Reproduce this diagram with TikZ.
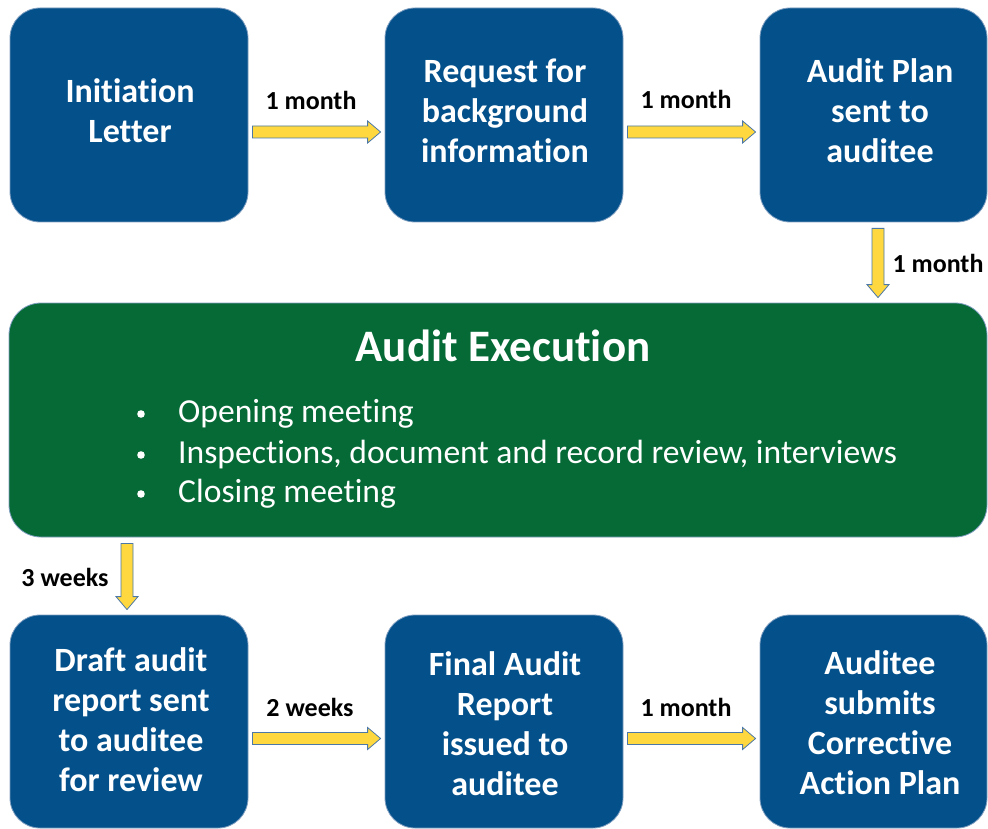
\documentclass[tikz,border=0pt]{standalone}
\usepackage{fontspec}
\setmainfont[Ligatures={NoCommon}]{Carlito}
\usetikzlibrary{calc}
\definecolor{boxblue}{HTML}{03508B}
\definecolor{boxgreen}{HTML}{066A37}
\definecolor{edgeblue}{HTML}{7F9EC0}
\definecolor{arrowfill}{HTML}{FFD83F}
\definecolor{arrowedge}{HTML}{4C78A8}
\tikzset{
  stepbox/.style={rectangle, rounded corners=30pt, fill=boxblue, draw=edgeblue, line width=0.8pt, inner sep=0pt},
  steptext/.style={text=white, font=\fontsize{34}{40}\selectfont\bfseries, align=center, inner sep=0pt},
  execbox/.style={rectangle, rounded corners=32pt, fill=boxgreen, draw=edgeblue, line width=0.8pt, inner sep=0pt},
  yarrow/.style={fill=arrowfill, draw=arrowedge, line width=0.8pt, line join=miter},
  timelabel/.style={font=\fontsize{26}{30}\selectfont\bfseries, text=black, inner sep=0pt},
  bullettext/.style={font=\fontsize{33.6}{40}\selectfont, text=white, anchor=west, inner sep=0pt},
}
\newcommand\harrow[2]{%
  \draw[yarrow] let \p1=($(#1.east)+(4pt,-17pt)$), \p2=($(#2.west)+(-4pt,0pt)$) in
    (\x1,\y1+6pt) -- (\x2-13pt,\y1+6pt) -- (\x2-13pt,\y1+11pt) -- (\x2,\y1) --
    (\x2-13pt,\y1-11pt) -- (\x2-13pt,\y1-6pt) -- (\x1,\y1-6pt) -- cycle;}
% #1 from node, #2 to node, #3 node giving x, #4 x offset
\newcommand\varrow[4]{%
  \draw[yarrow] let \p1=($(#1.south -| #3.south)+(#4,-6pt)$), \p2=($(#2.north -| #3.south)+(#4,5pt)$) in
    (\x1-6pt,\y1) -- (\x1-6pt,\y2+13pt) -- (\x1-11pt,\y2+13pt) -- (\x1,\y2) --
    (\x1+11pt,\y2+13pt) -- (\x1+6pt,\y2+13pt) -- (\x1+6pt,\y1) -- cycle;}
\begin{document}
\begin{tikzpicture}[x=1pt,y=-1pt]
\useasboundingbox (0,0) rectangle (988,829);
% top row
\node[stepbox, minimum width=238pt, minimum height=214pt] (init) at (129,115) {};
\node[steptext] (initT) at (130,111) {Initiation\\Letter};
\node[stepbox, minimum width=238pt, minimum height=214pt] (req) at (504,115) {};
\node[steptext] (reqT) at (505,111) {Request for\\background\\information};
\node[stepbox, minimum width=227pt, minimum height=214pt] (plan) at (873.5,115) {};
\node[steptext] (planT) at (880,111) {Audit Plan\\sent to\\auditee};
% execution
\node[execbox, minimum width=978pt, minimum height=234pt] (exec) at (498,420) {};
\node[text=white, font=\fontsize{45}{50}\selectfont\bfseries] (execT) at (503,346) {Audit Execution};
\node[bullettext] (b1) at (178,414) {Opening meeting};
\node[bullettext] (b2) at (178,455) {Inspections, document and record review, interviews};
\node[bullettext] (b3) at (178,494) {Closing meeting};
\foreach \n in {b1,b2,b3} \fill[white] ($(\n.west)+(-37pt,0)$) circle (3.8pt);
% bottom row
\node[stepbox, minimum width=238pt, minimum height=213pt] (draft) at (129,721.5) {};
\node[steptext] (draftT) at (131,720) {Draft audit\\report sent\\to auditee\\for review};
\node[stepbox, minimum width=238pt, minimum height=213pt] (final) at (504,721.5) {};
\node[steptext] (finalT) at (505,724) {Final Audit\\Report\\issued to\\auditee};
\node[stepbox, minimum width=227pt, minimum height=213pt] (cap) at (873.5,721.5) {};
\node[steptext] (capT) at (880,723) {Auditee\\submits\\Corrective\\Action Plan};
% arrows
\harrow{init}{req}
\harrow{req}{plan}
\harrow{draft}{final}
\harrow{final}{cap}
\varrow{plan}{exec}{plan}{4.5pt}
\varrow{exec}{draft}{draft}{-2pt}
% labels
\node[timelabel] (l1) at (311,100) {1 month};
\node[timelabel] (l2) at (686,99) {1 month};
\node[timelabel] (l3) at (938,263) {1 month};
\node[timelabel] (l4) at (65,577) {3 weeks};
\node[timelabel] (l5) at (310,707) {2 weeks};
\node[timelabel] (l6) at (686,707) {1 month};
\end{tikzpicture}
\end{document}
